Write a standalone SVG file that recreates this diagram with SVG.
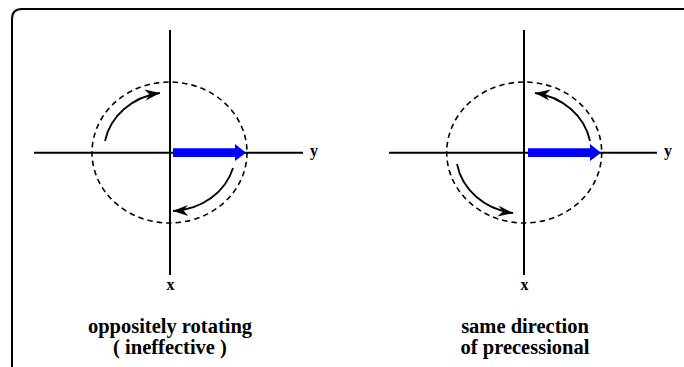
<svg xmlns="http://www.w3.org/2000/svg" width="684" height="367" viewBox="0 0 684 367">
<defs>
<marker id="ah" markerUnits="userSpaceOnUse" markerWidth="20" markerHeight="14" viewBox="-16 -7 18 14" refX="0" refY="0" orient="auto">
<path d="M0,0 L-15,-5.5 L-10.5,0 L-15,5.5 Z" fill="#000"/>
</marker>
<style>
.frame{fill:none;stroke:#000;stroke-width:2}
.axis{stroke:#000;stroke-width:2;fill:none}
.orbit{fill:none;stroke:#000;stroke-width:1.6;stroke-dasharray:5.5,4}
.rot{fill:none;stroke:#000;stroke-width:1.8;marker-end:url(#ah)}
.vec{fill:#0000ff;stroke:none}
text{font-family:'Liberation Serif','DejaVu Serif',serif;font-weight:bold;fill:#000}
.ax{font-size:16px}
.cap{font-size:20.5px;text-anchor:middle}
</style>
</defs>
<path class="frame" d="M12,370 L12,19 Q12,9 22,9 L686,9"/>
<g id="left">
<line class="axis" x1="170" y1="30" x2="170" y2="275"/>
<line class="axis" x1="34" y1="152.7" x2="303" y2="152.7"/>
<ellipse class="orbit" cx="169.5" cy="152.5" rx="77.5" ry="70.5"/>
<path class="vec" d="M173,148.3 L235,148.3 L235,144 L246,152.7 L235,161 L235,156.9 L173,156.9 Z"/>
<text class="ax" x="314" y="156" text-anchor="middle" font-family="Liberation Serif, serif">y</text>
<text class="ax" x="170.5" y="290" text-anchor="middle" font-family="Liberation Serif, serif">x</text>
<text class="cap" x="170" y="333" font-family="Liberation Serif, serif">oppositely rotating</text>
<text class="cap" x="170" y="354" font-family="Liberation Serif, serif">( ineffective )</text>
</g>
<g id="right">
<line class="axis" x1="524" y1="30" x2="524" y2="275"/>
<line class="axis" x1="389" y1="152.7" x2="657" y2="152.7"/>
<ellipse class="orbit" cx="524.2" cy="152.5" rx="77.5" ry="70.5"/>
<path class="vec" d="M528,148.3 L590,148.3 L590,144 L601,152.7 L590,161 L590,156.9 L528,156.9 Z"/>
<text class="ax" x="668" y="156" text-anchor="middle" font-family="Liberation Serif, serif">y</text>
<text class="ax" x="524.5" y="290" text-anchor="middle" font-family="Liberation Serif, serif">x</text>
<text class="cap" x="525" y="333" font-family="Liberation Serif, serif">same direction</text>
<text class="cap" x="525" y="354" font-family="Liberation Serif, serif">of precessional</text>
</g>
<g id="connectors">
<path class="rot" d="M105,141 A66,60 0 0 1 160,93"/>
<path class="rot" d="M233,168 A65,59 0 0 1 173,211"/>
<path class="rot" d="M590,141 A66,60 0 0 0 535,93"/>
<path class="rot" d="M457,164 A66,60 0 0 0 513,213"/>
</g>
</svg>
